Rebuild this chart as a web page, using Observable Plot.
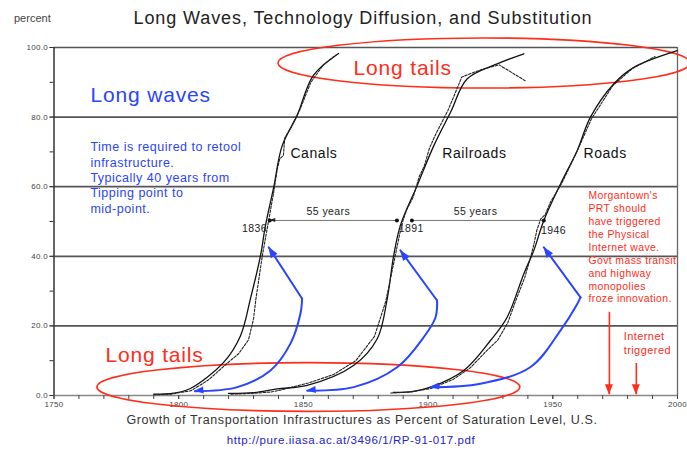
<!DOCTYPE html>
<html><head><meta charset="utf-8">
<script src="https://cdn.jsdelivr.net/npm/d3@7"></script>
<script src="https://cdn.jsdelivr.net/npm/@observablehq/plot@0.6"></script>
<style>
body{margin:0;background:#fff;font-family:"Liberation Sans",Arial,sans-serif;}
#wrap{position:relative;width:687px;height:454px;overflow:hidden;background:#fff;}
#chart svg text{letter-spacing:0.04em;}
.ov{position:absolute;white-space:nowrap;line-height:1;letter-spacing:0.05em;}
</style></head><body>
<div id="wrap">
  <div id="chart"></div>
  <div class="ov" style="left:14px;top:13px;font-size:11px;color:#444;letter-spacing:0">percent</div>
  <div class="ov" style="left:0;width:726px;text-align:center;top:9px;font-size:18px;color:#222">Long Waves, Technology Diffusion, and Substitution</div>
  <div class="ov" style="left:0;width:724px;text-align:center;top:414px;font-size:12.5px;color:#333">Growth of Transportation Infrastructures as Percent of Saturation Level, U.S.</div>
  <div class="ov" style="left:0;width:702px;text-align:center;top:435px;font-size:11.5px;color:#2222cc">http://pure.iiasa.ac.at/3496/1/RP-91-017.pdf</div>
</div>
<script>
// ---- axis ticks ----
const yearTicks = [1750, 1800, 1850, 1900, 1950, 2000];
const yearMinor = [1750,1760,1770,1780,1790,1800,1810,1820,1830,1840,1850,1860,1870,1880,1890,1900,1910,1920,1930,1940,1950,1960,1970,1980,1990,2000];
const pctTicks = [0, 20, 40, 60, 80, 100];
const pctMinor = [0,10,20,30,40,50,60,70,80,90,100];

// ---- fitted logistic curves (year, percent of saturation) ----
const canalsFit = [[1790,0.4],[1798,0.7],[1804.7,2],[1818.1,9.6],[1824.8,17.2],[1828.8,27.9],[1832.8,40.2],[1834.8,48.9],[1838,59.5],[1841.5,71.8],[1847.5,80.5],[1854,92],[1864.1,98.3]];
const railroadsFit = [[1820,0.6],[1830,0.8],[1839.5,1.9],[1851.5,2.9],[1870.1,8.6],[1879.6,16.3],[1883.6,27.8],[1886.2,40.2],[1888.9,48.9],[1895.6,60.3],[1902.3,71.8],[1909,81.4],[1915.7,91],[1927.7,95.3],[1938.4,98.2]];
const roadsFit = [[1886,0.9],[1894,1.2],[1901,2.4],[1914.3,7.2],[1925,15.8],[1931.7,22.5],[1938.4,35],[1942.4,41.7],[1946.4,50.3],[1953.1,60.8],[1959.8,70.4],[1965.1,80],[1974.5,89.6],[1982.5,94.3],[1999.9,99.1]];

// ---- actual data series ----
const canalsData = [[1790,0.2],[1797,0.4],[1805,1.4],[1812,4.5],[1819,9],[1824,12],[1828,16],[1830,22],[1831,28],[1833.5,40],[1835,46],[1836.5,52],[1838,58],[1839.5,65],[1840.5,68],[1842,69],[1842.5,74],[1845,77],[1848.5,82],[1853,90],[1858,95],[1863,97.8]];
const railroadsData = [[1821,0.4],[1829,0.6],[1837,1],[1841,1.6],[1852,3.6],[1862,6],[1871,10],[1878.5,17],[1883,27],[1886.5,39],[1888.5,46],[1890,50.5],[1891.5,53.5],[1894,57],[1896.5,63],[1898.5,66],[1900.5,71],[1903,75],[1908,82],[1911.5,88],[1913.5,91.5],[1917,92.5],[1922,93.8],[1928.5,95],[1939.3,90.3]];
const roadsData = [[1885,0.7],[1893,1],[1901,2],[1910,4.6],[1917,8],[1923,12.5],[1928,16],[1932,21],[1935,27],[1938.8,34],[1941.2,40],[1942.6,44],[1943.6,47.5],[1945.2,50.8],[1947,52],[1949,55.5],[1953.6,61],[1959.5,69.8],[1965.5,79.5],[1974,89],[1982,94],[1991,97.4]];

// ---- blue "tipping point to mid-point" arrows ----
const canalsArc = [[1806.5,1.2],[1823.5,2.4],[1836.8,7.2],[1844.8,14.9],[1848.8,23.5],[1849.5,27.8]];
const canalsTip = [1836.1,42.6];
const railroadsArc = [[1851.5,1.4],[1870.2,2.4],[1887.6,8.1],[1898.3,16.8],[1903,22.5],[1903.6,27.3]];
const railroadsTip = [1888.9,41.7];
const roadsArc = [[1901,2.4],[1921,3.4],[1941.1,8.2],[1953.1,18.7],[1959.8,26.3],[1961.1,28.2]];
const roadsTip = [1946.4,42.6];

// ---- mid-point spacing ----
const midYears = [1836, 1891, 1946];
const spans = [{from:1836.5, to:1887.5, pct:50.3, label:"55 years", at:1860},
               {from:1893.5, to:1946.4, pct:50.3, label:"55 years", at:1919}];

// ---- red "triggered" arrows ----
const redArrows = [{year:1972.7, from:23.9, to:0.2}, {year:1983.5, from:9.2, to:0.2}];

// ---- red "long tails" ellipses ----
const ellipses = [{year:1922.6, pct:95.4, rYears:82.6, rPct:7.2},
                  {year:1852.2, pct:2.3, rYears:84.8, rPct:7.0}];

const BLUE = "#2a44ff", RED = "#ff2d1a";
const rows = (arr, name) => arr.map(([year, pct]) => ({year, pct, name}));
const fitRows = [...rows(canalsFit,"Canals"), ...rows(railroadsFit,"Railroads"), ...rows(roadsFit,"Roads")];
const dataRows = [...rows(canalsData,"Canals"), ...rows(railroadsData,"Railroads"), ...rows(roadsData,"Roads")];
const arcRows = [...rows(canalsArc,"Canals"), ...rows(railroadsArc,"Railroads"), ...rows(roadsArc,"Roads")];
const straightRows = [...rows([canalsArc[canalsArc.length-1], canalsTip],"Canals"),
                      ...rows([railroadsArc[railroadsArc.length-1], railroadsTip],"Railroads"),
                      ...rows([roadsArc[roadsArc.length-1], roadsTip],"Roads")];

// arrow heads: from -> to in data space, drawn through the plot's scales
const heads = [];
for (const [arc, tip] of [[canalsArc, canalsTip],[railroadsArc, railroadsTip],[roadsArc, roadsTip]]) {
  heads.push({f: arc[arc.length-1], t: tip, c: BLUE, len: 11, wid: 8});
  heads.push({f: arc[1], t: arc[0], c: BLUE, len: 9, wid: 7});
}
for (const r of redArrows) heads.push({f:[r.year, r.from], t:[r.year, r.to], c: RED, len: 10, wid: 8});
heads.push({f:[spans[0].at, spans[0].pct], t:[spans[0].from, spans[0].pct], c:"#222", len:6, wid:4});

const headMark = (index, scales) => {
  const g = d3.create("svg:g");
  for (const h of heads) {
    const ax = scales.x(h.f[0]), ay = scales.y(h.f[1]), bx = scales.x(h.t[0]), by = scales.y(h.t[1]);
    const a = Math.atan2(by - ay, bx - ax), L = h.len, W = h.wid / 2;
    const p1 = [bx - L*Math.cos(a) + W*Math.sin(a), by - L*Math.sin(a) - W*Math.cos(a)];
    const p2 = [bx - L*Math.cos(a) - W*Math.sin(a), by - L*Math.sin(a) + W*Math.cos(a)];
    g.append("path").attr("d", `M${bx},${by}L${p1}L${p2}Z`).attr("fill", h.c);
  }
  return g.node();
};
const ellipseMark = (index, scales) => {
  const g = d3.create("svg:g");
  for (const e of ellipses) {
    const cx = scales.x(e.year), cy = scales.y(e.pct);
    g.append("ellipse").attr("cx", cx).attr("cy", cy)
      .attr("rx", Math.abs(scales.x(e.year + e.rYears) - cx))
      .attr("ry", Math.abs(scales.y(e.pct + e.rPct) - cy))
      .attr("fill", "none").attr("stroke", RED).attr("stroke-width", 1.6);
  }
  return g.node();
};

const curveLabels = [{year:1844.8, pct:69.5, t:"Canals"},{year:1905.7, pct:69.5, t:"Railroads"},{year:1962.3, pct:69.5, t:"Roads"}];
const midLabels = [{year:1830.4, pct:48, t:String(midYears[0]), a:"end"},
                   {year:1893.2, pct:48, t:String(midYears[1]), a:"start"},
                   {year:1950.3, pct:47.4, t:String(midYears[2]), a:"start"}];
const blueNote = "Time is required to retool\ninfrastructure.\nTypically 40 years from\nTipping point to\nmid-point.";
const redNote = "Morgantown's\nPRT should\nhave triggered\nthe Physical\nInternet wave.\nGovt mass transit\nand highway\nmonopolies\nfroze innovation.";

const chart = Plot.plot({
  width: 687, height: 454,
  marginTop: 47, marginBottom: 59, marginLeft: 53.5, marginRight: 10,
  x: {domain: [1750, 2000]},
  y: {domain: [0, 100]},
  style: {fontFamily: "Liberation Sans, Arial, sans-serif", background: "#fff", overflow: "visible"},
  marks: [
    Plot.ruleY(pctTicks.slice(1), {stroke: "#555", strokeWidth: 1.7}),
    Plot.ruleY([0], {stroke: "#888", strokeWidth: 1.3}),
    Plot.ruleX([2000], {stroke: "#666", strokeWidth: 1.3}),
    Plot.ruleX([1750], {stroke: "#333", strokeWidth: 1.5}),
    Plot.axisY({ticks: pctTicks, tickFormat: d => d.toFixed(1), tickSize: 4, tickPadding: 2, fontSize: 8, color: "#444", label: null}),
    Plot.axisY({ticks: pctMinor, tickFormat: () => "", tickSize: 4, label: null, color: "#333"}),
    Plot.axisX({ticks: yearTicks, tickFormat: d => String(d), tickSize: 4, tickPadding: 2, fontSize: 8, color: "#444", label: null}),
    Plot.axisX({ticks: yearMinor, tickFormat: () => "", tickSize: 4, label: null, color: "#444"}),
    ellipseMark,
    Plot.line(fitRows, {x: "year", y: "pct", z: "name", curve: "catmull-rom", stroke: "#111", strokeWidth: 1.3}),
    Plot.line(dataRows, {x: "year", y: "pct", z: "name", stroke: "#222", strokeWidth: 1.1, strokeDasharray: "2.5,1.5"}),
    Plot.line(arcRows, {x: "year", y: "pct", z: "name", curve: "catmull-rom", stroke: BLUE, strokeWidth: 2}),
    Plot.line(straightRows, {x: "year", y: "pct", z: "name", stroke: BLUE, strokeWidth: 2}),
    Plot.ruleY(spans, {y: "pct", x1: "from", x2: "to", stroke: "#666", strokeWidth: 0.9}),
    Plot.dot(spans.flatMap(s => [{year: s.from, pct: s.pct}, {year: s.to, pct: s.pct}]), {x: "year", y: "pct", r: 2, fill: "#111"}),
    Plot.ruleX(redArrows, {x: "year", y1: "from", y2: "to", stroke: RED, strokeWidth: 1.6}),
    headMark,
    Plot.text(spans, {x: "at", y: "pct", text: "label", dy: -9, fontSize: 10.5, fill: "#222"}),
    Plot.text(midLabels, {x: "year", y: "pct", text: "t", textAnchor: "a", fontSize: 10.5, fill: "#222"}),
    Plot.text(curveLabels, {x: "year", y: "pct", text: "t", textAnchor: "start", fontSize: 14, fill: "#111"}),
    Plot.text([{year: 1764.6, pct: 86.2, t: "Long waves"}], {x: "year", y: "pct", text: "t", textAnchor: "start", fontSize: 21, fill: BLUE}),
    Plot.text([{year: 1870.1, pct: 94, t: "Long tails"}, {year: 1770.6, pct: 11.5, t: "Long tails"}], {x: "year", y: "pct", text: "t", textAnchor: "start", fontSize: 21, fill: RED}),
    Plot.text([{year: 1764.6, pct: 73.3, t: blueNote}], {x: "year", y: "pct", text: "t", textAnchor: "start", lineAnchor: "top", lineHeight: 1.23, fontSize: 12.5, fill: BLUE}),
    Plot.text([{year: 1964.3, pct: 59, t: redNote}], {x: "year", y: "pct", text: "t", textAnchor: "start", lineAnchor: "top", lineHeight: 1.24, fontSize: 10.4, fill: RED}),
    Plot.text([{year: 1978.4, pct: 18.8, t: "Internet\ntriggered"}], {x: "year", y: "pct", text: "t", textAnchor: "start", lineAnchor: "top", lineHeight: 1.27, fontSize: 11, fill: RED})
  ]
});
document.getElementById("chart").appendChild(chart);
</script>
</body></html>
